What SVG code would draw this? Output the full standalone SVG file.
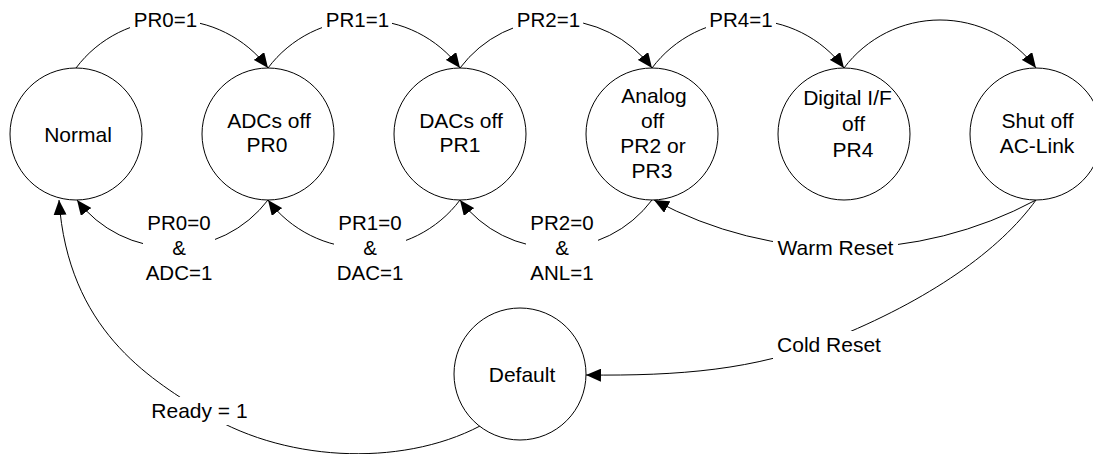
<svg xmlns="http://www.w3.org/2000/svg" width="1093" height="454" viewBox="0 0 1093 454">
<style>
  .node circle { fill: #fff; stroke: #000; stroke-width: 1; }
  text { font-family: "Liberation Sans", Arial, sans-serif; fill: #000; text-anchor: middle; }
  .nt { font-size: 21px; }
  .lt { font-size: 20.5px; }
  .rt { font-size: 21px; }
  .edge { fill: none; stroke: #000; stroke-width: 1; }
  .bg { fill: #fff; stroke: none; }
</style>
<defs>
  <marker id="arr" markerUnits="userSpaceOnUse" markerWidth="15" markerHeight="13" refX="15" refY="6.5" orient="auto">
    <path d="M0,0 L15,6.5 L0,13 z" fill="#000"/>
  </marker>
</defs>
<rect width="1093" height="454" fill="#fff"/>

<g id="connectors">
  <path class="edge" d="M76,68 A120,120 0 0 1 268,68" marker-end="url(#arr)"/>
  <path class="edge" d="M268,68 A120,120 0 0 1 460,68" marker-end="url(#arr)"/>
  <path class="edge" d="M460,68 A120,120 0 0 1 652,68" marker-end="url(#arr)"/>
  <path class="edge" d="M652,68 A120,120 0 0 1 844,68" marker-end="url(#arr)"/>
  <path class="edge" d="M844,68 A120,120 0 0 1 1036,68" marker-end="url(#arr)"/>
  <path class="edge" d="M268,200 A120,120 0 0 1 77,200" marker-end="url(#arr)"/>
  <path class="edge" d="M460,200 A120,120 0 0 1 268,200" marker-end="url(#arr)"/>
  <path class="edge" d="M652,200 A120,120 0 0 1 460,200" marker-end="url(#arr)"/>
  <path class="edge" d="M1036,200 A404,404 0 0 1 654,200" marker-end="url(#arr)"/>
  <path class="edge" d="M1036,200 C1000,250 930,300 830,340 C755,370 680,376 586,375" marker-end="url(#arr)"/>
  <path class="edge" d="M480,426 C400,468 280,462 200,410 C150,378 68,330 59,200" marker-end="url(#arr)"/>
</g>

<g id="labels">
  <g id="lbl-pr0-1"><rect class="bg" x="130" y="8" width="70" height="24"/><text class="lt" x="165.5" y="27">PR0=1</text></g>
  <g id="lbl-pr1-1"><rect class="bg" x="322" y="8" width="70" height="24"/><text class="lt" x="357.5" y="27">PR1=1</text></g>
  <g id="lbl-pr2-1"><rect class="bg" x="513" y="8" width="70" height="24"/><text class="lt" x="548.5" y="27">PR2=1</text></g>
  <g id="lbl-pr4-1"><rect class="bg" x="706" y="8" width="70" height="24"/><text class="lt" x="741" y="27">PR4=1</text></g>

  <g id="lbl-pr0-0"><rect class="bg" x="143" y="211" width="72" height="74"/>
    <text class="lt" x="179" y="230">PR0=0</text><text class="lt" x="179" y="255">&amp;</text><text class="lt" x="179" y="280">ADC=1</text></g>
  <g id="lbl-pr1-0"><rect class="bg" x="334" y="211" width="72" height="74"/>
    <text class="lt" x="370" y="230">PR1=0</text><text class="lt" x="370" y="255">&amp;</text><text class="lt" x="370" y="280">DAC=1</text></g>
  <g id="lbl-pr2-0"><rect class="bg" x="526" y="211" width="72" height="74"/>
    <text class="lt" x="562" y="230">PR2=0</text><text class="lt" x="562" y="255">&amp;</text><text class="lt" x="562" y="280">ANL=1</text></g>

  <g id="lbl-warm"><rect class="bg" x="773" y="236" width="125" height="24"/><text class="rt" x="835.5" y="255">Warm Reset</text></g>
  <g id="lbl-cold"><rect class="bg" x="773" y="331" width="112" height="28"/><text class="rt" x="829" y="352">Cold Reset</text></g>
  <g id="lbl-ready"><rect class="bg" x="148" y="397" width="103" height="28"/><text class="rt" x="199.5" y="418">Ready = 1</text></g>
</g>

<g id="node-normal" class="node"><circle cx="76" cy="134" r="66"/><text class="nt" x="78" y="142">Normal</text></g>
<g id="node-adcs" class="node"><circle cx="268" cy="134" r="66"/><text class="nt" x="269" y="128">ADCs off</text><text class="nt" x="267" y="152">PR0</text></g>
<g id="node-dacs" class="node"><circle cx="460" cy="134" r="66"/><text class="nt" x="461" y="128">DACs off</text><text class="nt" x="460" y="152">PR1</text></g>
<g id="node-analog" class="node"><circle cx="652" cy="134" r="66"/><text class="nt" x="654" y="103">Analog</text><text class="nt" x="652.5" y="128">off</text><text class="nt" x="653" y="153">PR2 or</text><text class="nt" x="652" y="178">PR3</text></g>
<g id="node-digital" class="node"><circle cx="844" cy="134" r="66"/><text class="nt" x="847.5" y="105">Digital I/F</text><text class="nt" x="853.5" y="131">off</text><text class="nt" x="853" y="156.5">PR4</text></g>
<g id="node-shutoff" class="node"><circle cx="1036" cy="134" r="66"/><text class="nt" x="1037.5" y="128">Shut off</text><text class="nt" x="1037" y="153">AC-Link</text></g>
<g id="node-default" class="node"><circle cx="520" cy="374" r="66"/><text class="nt" x="522" y="381.5">Default</text></g>
</svg>
